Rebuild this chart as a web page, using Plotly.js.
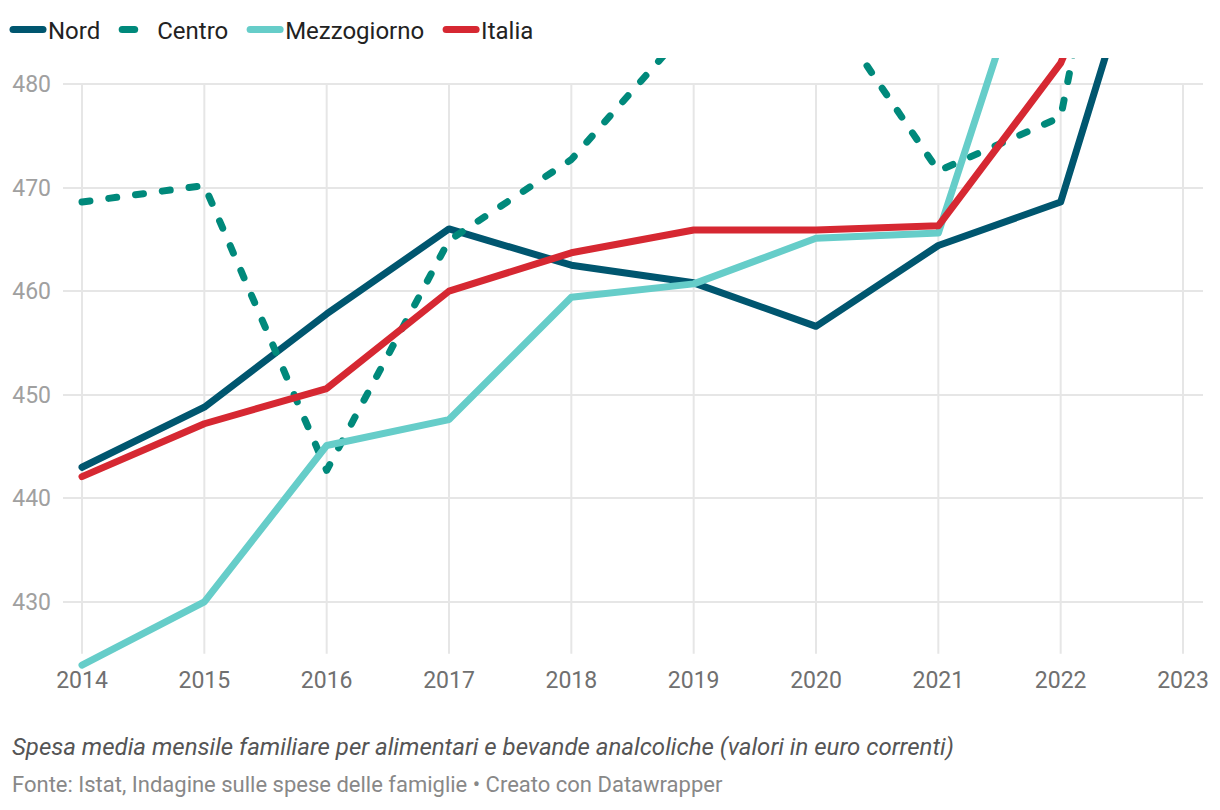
<!DOCTYPE html>
<html>
<head>
<meta charset="utf-8">
<script src="https://cdn.plot.ly/plotly-3.0.1.min.js"></script>
<style>
html,body{margin:0;padding:0;background:#fff;}
#chart{width:1220px;height:810px;}
.scatterlayer .js-line{stroke-linecap:round !important;stroke-linejoin:round !important;}
.legend .js-line{stroke-linecap:round !important;}
.legend .traces:nth-child(2) .js-line{stroke-dasharray:12.5px,100px !important;stroke-dashoffset:0 !important;}
</style>
</head>
<body>
<div id="chart"></div>
<script>
const years = [2014, 2015, 2016, 2017, 2018, 2019, 2020, 2021, 2022, 2023];
const nord = [443.0, 448.8, 457.8, 466.0, 462.5, 460.8, 456.6, 464.4, 468.6, 507.0];
const centro = [468.6, 470.2, 442.7, 464.9, 472.7, 486.0, 489.0, 471.6, 476.8, 536.0];
const mezzogiorno = [423.9, 430.0, 445.1, 447.6, 459.4, 460.7, 465.1, 465.6, 501.8, 515.0];
const italia = [442.1, 447.2, 450.6, 460.0, 463.7, 465.9, 465.9, 466.3, 482.0, 510.0];
const yTicks = [430, 440, 450, 460, 470, 480];
const seriesNames = ["Nord", "Centro", "Mezzogiorno", "Italia"];
const caption = "Spesa media mensile familiare per alimentari e bevande analcoliche (valori in euro correnti)";
const source = "Fonte: Istat, Indagine sulle spese delle famiglie • Creato con Datawrapper";

const colors = ["#00566f", "#00897b", "#66cdc9", "#d62832"];
const values = [nord, centro, mezzogiorno, italia];
const pad = "\u00a0\u00a0";

const traces = values.map((v, i) => ({
  x: years, y: v, name: seriesNames[i] + pad, type: "scatter", mode: "lines",
  line: {color: colors[i], width: 7, dash: i === 1 ? "8px,19px" : "solid"},
  hoverinfo: "skip"
}));
const shapes = years.map(yr => ({
  type: "line", xref: "x", yref: "y", x0: yr, x1: yr, y0: 425.0, y1: 480,
  line: {color: "#e6e6e6", width: 2}, layer: "below"
}));

const PW = 1140;
const layout = {
  width: 1220, height: 810,
  margin: {l: 63, r: 17, t: 58, b: 135},
  paper_bgcolor: "#fff", plot_bgcolor: "#fff",
  font: {family: "Roboto, sans-serif"},
  showlegend: true,
  legend: {
    orientation: "h", xref: "container", yref: "container",
    x: 8/1220, y: 1 - 30/810, xanchor: "left", yanchor: "middle",
    font: {size: 24, color: "#222"}, itemwidth: 30, traceorder: "normal"
  },
  xaxis: {
    range: [2013.8446, 2023.1635], tickvals: years, ticktext: years.map(String),
    showgrid: false, zeroline: false, showline: false, ticks: "",
    tickfont: {size: 23, color: "#707070"}, ticklabelstandoff: -11, fixedrange: true
  },
  yaxis: {
    range: [422.95, 482.5], tickvals: yTicks, ticktext: yTicks.map(String),
    showgrid: true, gridcolor: "#e6e6e6", gridwidth: 2, zeroline: false, showline: false, ticks: "",
    tickfont: {size: 23, color: "#a0a0a0"}, ticklabelstandoff: 11, fixedrange: true
  },
  shapes: shapes,
  annotations: [
    {text: "<i>" + caption + "</i>", xref: "paper", yref: "paper", x: -53/PW, y: (675-747)/617,
     xanchor: "left", yanchor: "middle", showarrow: false,
     font: {size: 24, color: "#555", family: "Roboto, sans-serif"}},
    {text: source, xref: "paper", yref: "paper", x: -53/PW, y: (675-784)/617,
     xanchor: "left", yanchor: "middle", showarrow: false,
     font: {size: 22, color: "#888", family: "Roboto, sans-serif"}}
  ]
};
Plotly.newPlot("chart", traces, layout, {displayModeBar: false, staticPlot: true});
</script>
</body>
</html>
